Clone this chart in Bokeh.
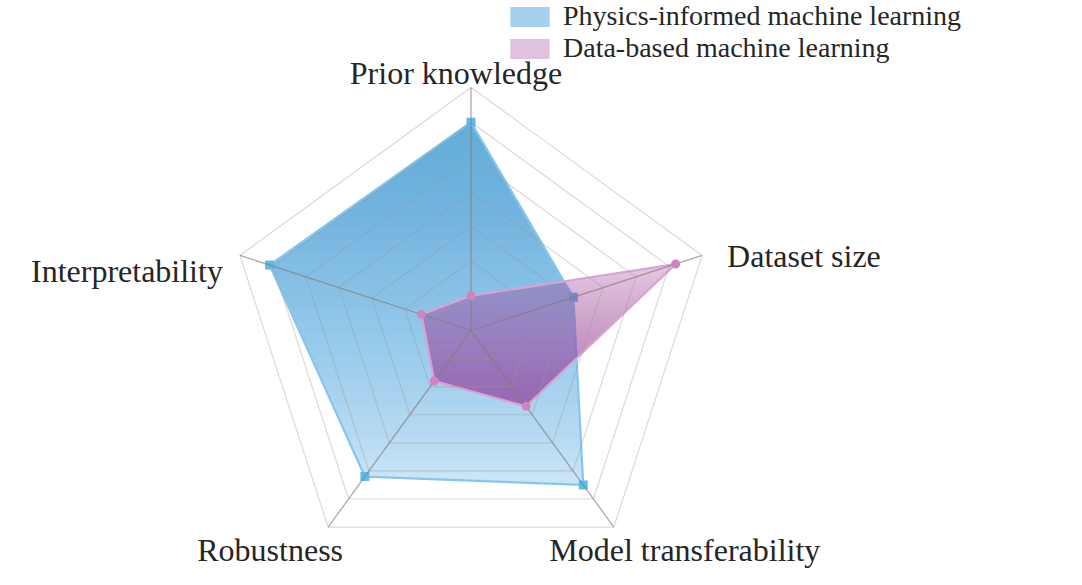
import numpy as np
from bokeh.plotting import figure
from bokeh.models import Range1d, Legend, LegendItem, ColumnDataSource
from bokeh.core.properties import value
from bokeh.embed import file_html
from bokeh.resources import INLINE

# ---------------- data ----------------
indicators = ["Prior knowledge", "Dataset size", "Model transferability",
              "Robustness", "Interpretability"]
max_value = 7
rings = [1, 2, 3, 4, 5, 6, 7]
series_names = ["Physics-informed machine learning", "Data-based machine learning"]
physics_values = [6.0, 3.1, 5.5, 5.2, 6.1]
data_values = [1.0, 6.2, 2.7, 1.8, 1.5]

# ---------------- styles ----------------
FONT = "Liberation Serif"
TXT = "#262626"
BLUE = "#2896dc"
PINK = "#a546a0"

W, H = 1066, 569
scale = 243 / max_value          # px per unit
cx_px, cy_px = 470.5, 330.0       # centre in frame px

p = figure(width=W, height=H, output_backend="svg", toolbar_location=None,
           x_range=Range1d(-cx_px / scale, (W - cx_px) / scale),
           y_range=Range1d(-(H - cy_px) / scale, cy_px / scale),
           min_border=0)
p.axis.visible = False
p.grid.visible = False
p.outline_line_color = None
p.background_fill_color = "white"

n = len(indicators)
angles = np.pi / 2 - 2 * np.pi * np.arange(n) / n


def to_xy(vals):
    v = np.asarray(vals, dtype=float)
    return list(v * np.cos(angles)), list(v * np.sin(angles))


def clip_half(pts, y0, keep_above):
    out = []
    for i in range(len(pts)):
        cur, prev = pts[i], pts[i - 1]
        cin = cur[1] >= y0 if keep_above else cur[1] <= y0
        pin = prev[1] >= y0 if keep_above else prev[1] <= y0
        if cin != pin:
            t = (y0 - prev[1]) / (cur[1] - prev[1])
            out.append((prev[0] + t * (cur[0] - prev[0]), y0))
        if cin:
            out.append(cur)
    return out


def gradient_layers(xs, ys, color, a_base, a_end, keep_above, nl=30):
    """Stacked translucent layers: base polygon + parts beyond successive levels."""
    pts = list(zip(xs, ys))
    ytop, ybot = max(ys), min(ys)
    a = 1 - ((1 - a_end) / (1 - a_base)) ** (1.0 / nl)
    rends = [p.patch(xs, ys, fill_color=color, fill_alpha=a_base, line_color=None)]
    for k in range(1, nl + 1):
        f = k / (nl + 1)
        if keep_above:
            y0 = ybot + (ytop - ybot) * f
        else:
            y0 = ytop - (ytop - ybot) * f
        poly = clip_half(pts, y0, keep_above)
        if len(poly) < 3:
            continue
        rends.append(p.patch([q[0] for q in poly], [q[1] for q in poly],
                             fill_color=color, fill_alpha=a, line_color=None))
    return rends


# ---------------- physics-informed series ----------------
bxs, bys = to_xy(physics_values)
blue_layers = gradient_layers(bxs, bys, BLUE, 0.25, 0.66, keep_above=True)
p.line(bxs + bxs[:1], bys + bys[:1], line_color="#86c6ec", line_width=2.2)
p.scatter(bxs, bys, marker="square", size=9, fill_color="#5bbcef", line_color=None)

# ---------------- data-based series ----------------
pxs, pys = to_xy(data_values)
pink_layers = gradient_layers(pxs, pys, PINK, 0.3, 0.62, keep_above=False)
p.line(pxs + pxs[:1], pys + pys[:1], line_color="#d9a2d3", line_width=2.2)

# ---------------- grid ----------------
ring_xs, ring_ys = [], []
for r in rings:
    rx, ry = to_xy([r] * n)
    ring_xs.append(rx + rx[:1])
    ring_ys.append(ry + ry[:1])
p.multi_line(ring_xs, ring_ys, line_color="#9e9690", line_alpha=0.36, line_width=1.2)
ox, oy = to_xy([max_value] * n)
p.segment(x0=[0] * n, y0=[0] * n, x1=ox, y1=oy, line_color="#857a74",
          line_alpha=0.65, line_width=1.3)

p.scatter(pxs, pys, marker="circle", size=9, fill_color="#d283bf", line_color=None)

# ---------------- indicator labels ----------------
lab = ColumnDataSource(dict(
    x=ox, y=oy, text=indicators,
    align=["center", "left", "center", "center", "right"],
    dx=[-15, 25, 71, -58, -17],
    dy=[-15, 1, 23, 23, 16],
))
p.text(x="x", y="y", text="text", source=lab, text_align="align",
       text_baseline="alphabetic", x_offset="dx", y_offset="dy",
       text_font=value(FONT), text_font_size="32px", text_color=TXT)

# ---------------- legend ----------------
for name, rends, ypos in [(series_names[0], blue_layers[:9], 537),
                          (series_names[1], pink_layers[:3], 505)]:
    leg = Legend(items=[LegendItem(label=name, renderers=rends)],
                 location=(505, ypos), glyph_width=49, glyph_height=25,
                 label_standoff=9, padding=0, margin=0, spacing=0,
                 border_line_color=None, background_fill_alpha=0,
                 label_text_font=FONT, label_text_font_size="28px",
                 label_text_color=TXT, label_height=25)
    p.add_layout(leg)

open("out.html", "w").write(file_html(p, INLINE))
